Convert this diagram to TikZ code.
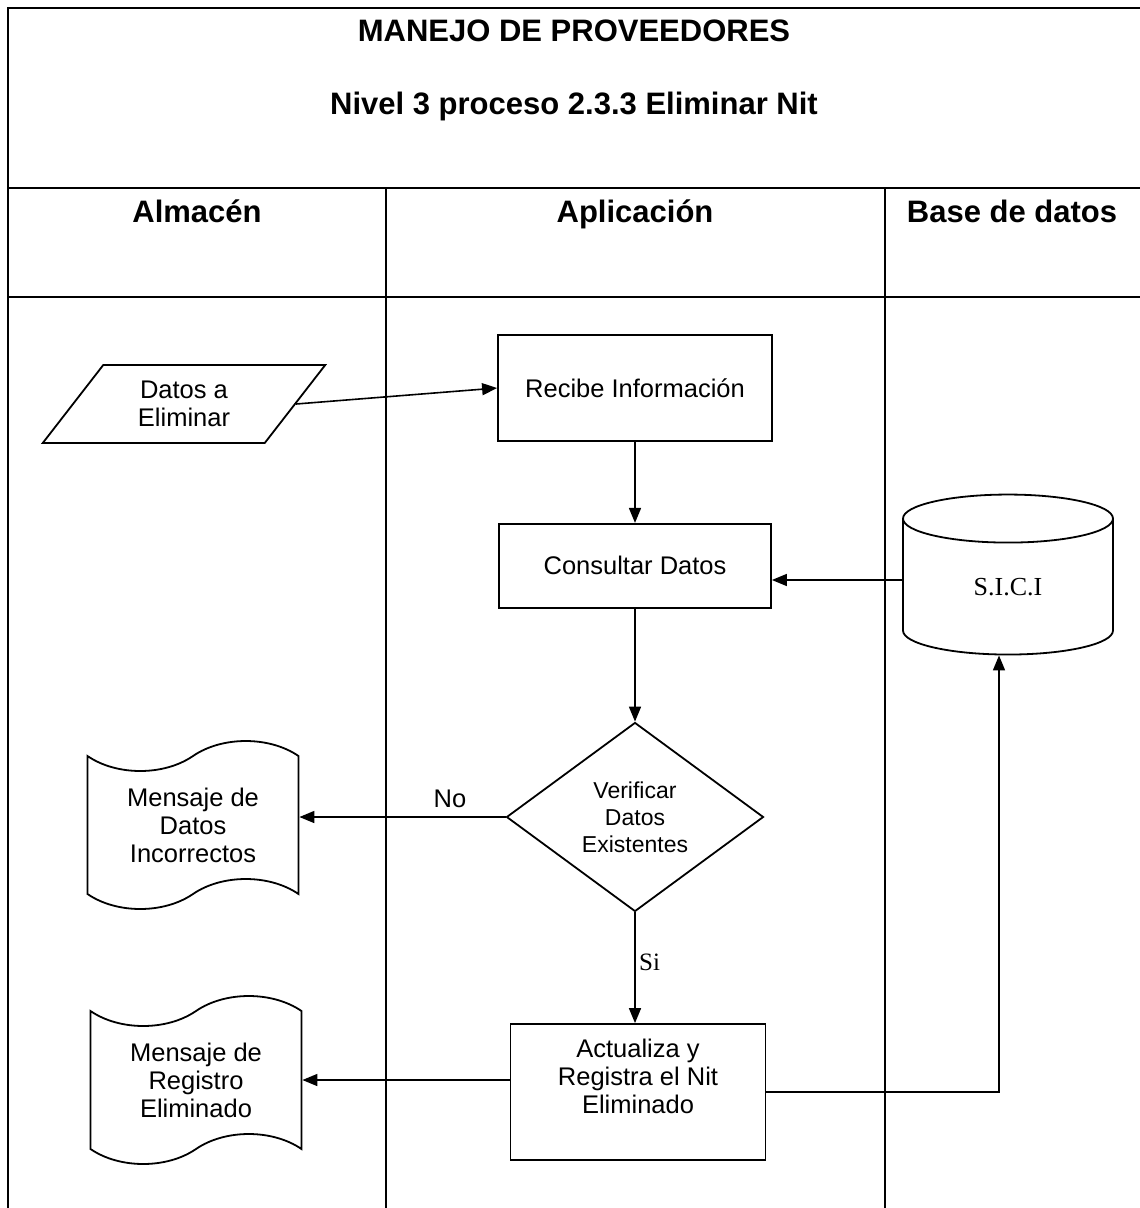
\documentclass[tikz,border=0pt]{standalone}
\usepackage{fontspec}
\setmainfont{Liberation Sans}
\newfontfamily\timesfont{Liberation Serif}
\usetikzlibrary{shapes.geometric, shapes.symbols, arrows.meta, positioning}

\begin{document}
\begin{tikzpicture}[x=1pt, y=-1pt,
    frame/.style={line width=2.8pt, black},
    lane/.style={line width=1.7pt, black},
    titulo/.style={font=\fontsize{31}{34}\selectfont\bfseries, anchor=base},
    proc/.style={rectangle, draw=black, line width=1.8pt, fill=white,
        inner sep=0pt, align=center, font=\fontsize{25.5}{28}\selectfont},
    entrada/.style={trapezium, trapezium left angle=53, trapezium right angle=127,
        trapezium stretches=true, draw=black, line width=1.8pt, inner sep=0pt,
        minimum width=283pt, minimum height=78pt, align=center,
        font=\fontsize{25.5}{28}\selectfont},
    decision/.style={diamond, draw=black, line width=1.8pt, inner sep=0pt,
        minimum width=257pt, minimum height=189pt, aspect=1.36, align=center,
        font=\fontsize{23}{27}\selectfont},
    mensaje/.style={tape, draw=black, line width=1.8pt, inner sep=0pt,
        minimum width=211pt, minimum height=168pt, tape bend height=30pt,
        align=center, font=\fontsize{25.5}{28}\selectfont},
    bd/.style={cylinder, shape border rotate=90, draw=black, line width=1.8pt,
        minimum width=210pt, minimum height=160pt, aspect=0.7, inner sep=0pt,
        font=\fontsize{26}{28}\timesfont},
    arr/.style={-{Triangle[length=15pt, width=12pt]}, line width=1.6pt, black},
]
\useasboundingbox (0,0) rectangle (1140,1208);

% marco y carriles
\draw[frame] (1140,8) -- (8,8) -- (8,1208);
\draw[frame] (8,188) -- (1140,188);
\draw[frame] (8,297) -- (1140,297);
\draw[lane] (386,188) -- (386,1208);
\draw[lane] (885,188) -- (885,1208);

\node[titulo] (T1) at (574,41) {MANEJO DE PROVEEDORES};
\node[titulo] (T2) at (574,114) {Nivel 3 proceso 2.3.3 Eliminar Nit};
\node[titulo] (H1) at (197,222) {Almacén};
\node[titulo] (H2) at (635,222) {Aplicación};
\node[titulo] (H3) at (1012,222) {Base de datos};

% nodos
\node[entrada] (DAT) at (184,404) {Datos a\\Eliminar};
\node[proc, minimum width=274pt, minimum height=106pt] (REC) at (635,388) {Recibe Información};
\node[proc, minimum width=272pt, minimum height=84pt, below=81pt of REC] (CON) {Consultar Datos};
\node[bd] (BD) at (1008,587) {S.I.C.I};
\coordinate (BDin) at ([yshift=7pt]BD.west);
\node[decision] (VER) at (635,817) {Verificar\\Datos\\Existentes};
\node[mensaje] (MSJ1) at (193,825) {Mensaje de\\Datos\\Incorrectos};
\node[proc, minimum width=255pt, minimum height=136pt,
    label={[align=center, font=\fontsize{25.5}{28}\selectfont, yshift=16pt]center:Actualiza y\\Registra el Nit\\Eliminado}] (ACT) at (638,1092) {};
\node[mensaje] (MSJ2) at (196,1080) {Mensaje de\\Registro\\Eliminado};

% flujos
\draw[arr] (DAT.east) -- (REC.west);
\draw[arr] (REC.south) -- (CON.north);
\draw[arr] (BDin) -- (CON.east |- BDin);
\draw[arr] (CON.south) -- (VER.north);
\draw[arr] (VER.west) -- node[above, pos=0.27, font=\fontsize{25.5}{28}\selectfont, yshift=5pt]{No} (MSJ1.east |- VER.west);
\draw[arr] (VER.south) -- node[right, pos=0.45, font=\fontsize{25}{28}\timesfont]{Si} (ACT.north -| VER.south);
\draw[arr] (ACT.west |- MSJ2.east) -- (MSJ2.east);
\draw[arr] (ACT.east) -| ([xshift=-9pt]BD.south);
\end{tikzpicture}
\end{document}
